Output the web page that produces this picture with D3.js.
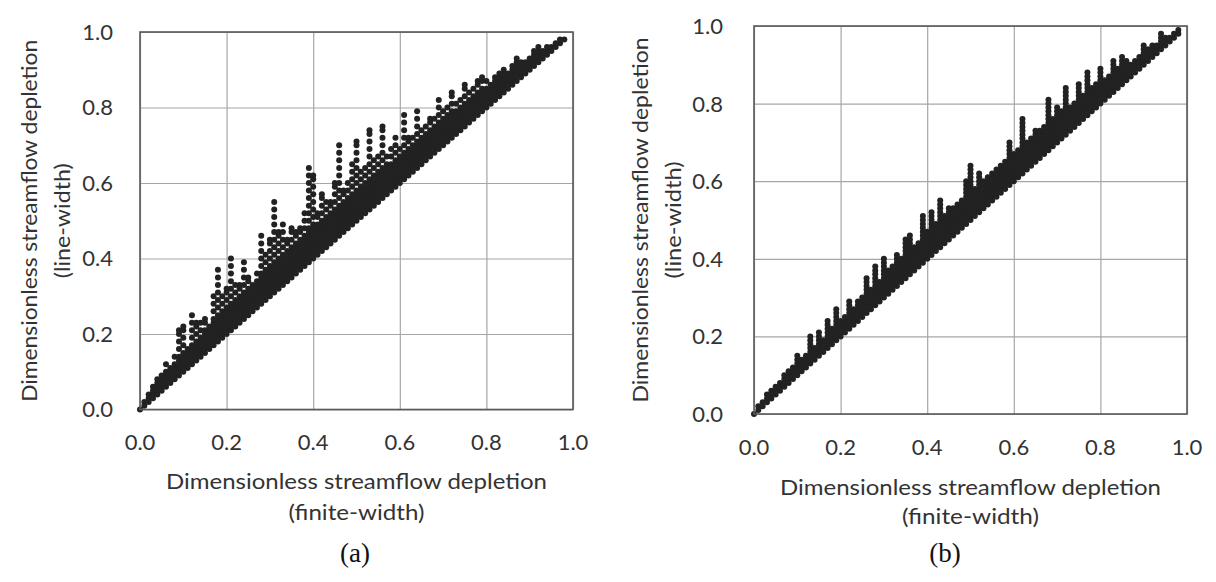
<!DOCTYPE html>
<html>
<head>
<meta charset="utf-8">
<script src="https://cdn.jsdelivr.net/npm/d3@7"></script>
<style>
  body { margin: 0; background: #fff; }
  svg { display: block; }
</style>
</head>
<body>
<div id="fig"></div>
<script>
// axis ticks and labels
var ticks = [0, 0.2, 0.4, 0.6, 0.8, 1.0];
var tickLabels = ["0.0", "0.2", "0.4", "0.6", "0.8", "1.0"];
var xTitle = ["Dimensionless streamflow depletion", "(finite-width)"];
var yTitle = ["Dimensionless streamflow depletion", "(line-width)"];
var captions = ["(a)", "(b)"];

// panel (a): [finite-width depletion, [line-width depletion values]]
var depletionA = [
  [0.00, [0.00]],
  [0.01, [0.01, 0.02]],
  [0.02, [0.02, 0.03, 0.04]],
  [0.03, [0.03, 0.04, 0.05, 0.06]],
  [0.04, [0.04, 0.05, 0.06, 0.07, 0.08]],
  [0.05, [0.05, 0.06, 0.07, 0.08, 0.09]],
  [0.06, [0.06, 0.07, 0.08, 0.09, 0.10, 0.12]],
  [0.07, [0.07, 0.08, 0.09, 0.10, 0.11]],
  [0.08, [0.08, 0.09, 0.10, 0.11, 0.12, 0.14]],
  [0.09, [0.09, 0.10, 0.11, 0.12, 0.13, 0.14, 0.16, 0.18, 0.20, 0.21]],
  [0.10, [0.10, 0.11, 0.12, 0.13, 0.14, 0.15, 0.17, 0.19, 0.21, 0.22]],
  [0.11, [0.11, 0.12, 0.13, 0.14, 0.15, 0.16]],
  [0.12, [0.12, 0.13, 0.14, 0.15, 0.16, 0.17, 0.19, 0.21, 0.23, 0.25]],
  [0.13, [0.13, 0.14, 0.15, 0.16, 0.17, 0.18, 0.20, 0.22, 0.23]],
  [0.14, [0.14, 0.15, 0.16, 0.17, 0.18, 0.19, 0.21, 0.23]],
  [0.15, [0.15, 0.16, 0.17, 0.18, 0.19, 0.20, 0.21, 0.23, 0.24]],
  [0.16, [0.16, 0.17, 0.18, 0.19, 0.20, 0.21, 0.22]],
  [0.17, [0.17, 0.18, 0.19, 0.20, 0.21, 0.22, 0.23, 0.24, 0.26, 0.28, 0.30]],
  [0.18, [0.18, 0.19, 0.20, 0.21, 0.22, 0.23, 0.24, 0.25, 0.27, 0.29, 0.31, 0.33, 0.35, 0.37]],
  [0.19, [0.19, 0.20, 0.21, 0.22, 0.23, 0.24, 0.25, 0.26, 0.28, 0.30]],
  [0.20, [0.20, 0.21, 0.22, 0.23, 0.24, 0.25, 0.26, 0.27, 0.29, 0.31, 0.32]],
  [0.21, [0.21, 0.22, 0.23, 0.24, 0.25, 0.26, 0.27, 0.28, 0.30, 0.32, 0.34, 0.36, 0.38, 0.40]],
  [0.22, [0.22, 0.23, 0.24, 0.25, 0.26, 0.27, 0.28, 0.29, 0.31, 0.33]],
  [0.23, [0.23, 0.24, 0.25, 0.26, 0.27, 0.28, 0.29, 0.30, 0.32, 0.33]],
  [0.24, [0.24, 0.25, 0.26, 0.27, 0.28, 0.29, 0.30, 0.31, 0.33, 0.35, 0.37, 0.39]],
  [0.25, [0.25, 0.26, 0.27, 0.28, 0.29, 0.30, 0.31, 0.32, 0.34, 0.35]],
  [0.26, [0.26, 0.27, 0.28, 0.29, 0.30, 0.31, 0.32, 0.33]],
  [0.27, [0.27, 0.28, 0.29, 0.30, 0.31, 0.32, 0.33, 0.34, 0.36]],
  [0.28, [0.28, 0.29, 0.30, 0.31, 0.32, 0.33, 0.34, 0.35, 0.36, 0.38, 0.40, 0.42, 0.44, 0.46]],
  [0.29, [0.29, 0.30, 0.31, 0.32, 0.33, 0.34, 0.35, 0.36, 0.37, 0.39, 0.41]],
  [0.30, [0.30, 0.31, 0.32, 0.33, 0.34, 0.35, 0.36, 0.37, 0.38, 0.40, 0.42, 0.44, 0.45]],
  [0.31, [0.31, 0.32, 0.33, 0.34, 0.35, 0.36, 0.37, 0.38, 0.39, 0.41, 0.43, 0.45, 0.47, 0.49, 0.51, 0.53, 0.55]],
  [0.32, [0.32, 0.33, 0.34, 0.35, 0.36, 0.37, 0.38, 0.39, 0.40, 0.42, 0.44, 0.46, 0.47]],
  [0.33, [0.33, 0.34, 0.35, 0.36, 0.37, 0.38, 0.39, 0.40, 0.41, 0.43, 0.45, 0.47, 0.49]],
  [0.34, [0.34, 0.35, 0.36, 0.37, 0.38, 0.39, 0.40, 0.41, 0.42, 0.44, 0.45]],
  [0.35, [0.35, 0.36, 0.37, 0.38, 0.39, 0.40, 0.41, 0.42, 0.43, 0.45, 0.47, 0.48]],
  [0.36, [0.36, 0.37, 0.38, 0.39, 0.40, 0.41, 0.42, 0.43, 0.44, 0.46, 0.47]],
  [0.37, [0.37, 0.38, 0.39, 0.40, 0.41, 0.42, 0.43, 0.44, 0.45, 0.47, 0.48]],
  [0.38, [0.38, 0.39, 0.40, 0.41, 0.42, 0.43, 0.44, 0.45, 0.46, 0.48, 0.50, 0.52]],
  [0.39, [0.39, 0.40, 0.41, 0.42, 0.43, 0.44, 0.45, 0.46, 0.47, 0.48, 0.50, 0.52, 0.54, 0.56, 0.58, 0.60, 0.62, 0.64]],
  [0.40, [0.40, 0.41, 0.42, 0.43, 0.44, 0.45, 0.46, 0.47, 0.48, 0.49, 0.51, 0.53, 0.55, 0.57, 0.59, 0.61, 0.62]],
  [0.41, [0.41, 0.42, 0.43, 0.44, 0.45, 0.46, 0.47, 0.48, 0.49, 0.51, 0.52]],
  [0.42, [0.42, 0.43, 0.44, 0.45, 0.46, 0.47, 0.48, 0.49, 0.50, 0.52, 0.54, 0.56, 0.57]],
  [0.43, [0.43, 0.44, 0.45, 0.46, 0.47, 0.48, 0.49, 0.50, 0.51, 0.53, 0.55]],
  [0.44, [0.44, 0.45, 0.46, 0.47, 0.48, 0.49, 0.50, 0.51, 0.52, 0.54, 0.55]],
  [0.45, [0.45, 0.46, 0.47, 0.48, 0.49, 0.50, 0.51, 0.52, 0.53, 0.55, 0.57, 0.59, 0.60]],
  [0.46, [0.46, 0.47, 0.48, 0.49, 0.50, 0.51, 0.52, 0.53, 0.54, 0.56, 0.58, 0.60, 0.62, 0.64, 0.66, 0.68, 0.70]],
  [0.47, [0.47, 0.48, 0.49, 0.50, 0.51, 0.52, 0.53, 0.54, 0.55, 0.57, 0.58]],
  [0.48, [0.48, 0.49, 0.50, 0.51, 0.52, 0.53, 0.54, 0.55, 0.56, 0.58, 0.60]],
  [0.49, [0.49, 0.50, 0.51, 0.52, 0.53, 0.54, 0.55, 0.56, 0.57, 0.59, 0.61, 0.63, 0.65]],
  [0.50, [0.50, 0.51, 0.52, 0.53, 0.54, 0.55, 0.56, 0.57, 0.58, 0.60, 0.62, 0.64, 0.66, 0.68, 0.70, 0.71]],
  [0.51, [0.51, 0.52, 0.53, 0.54, 0.55, 0.56, 0.57, 0.58, 0.59, 0.61, 0.63]],
  [0.52, [0.52, 0.53, 0.54, 0.55, 0.56, 0.57, 0.58, 0.59, 0.60, 0.62, 0.64]],
  [0.53, [0.53, 0.54, 0.55, 0.56, 0.57, 0.58, 0.59, 0.60, 0.61, 0.63, 0.65, 0.67, 0.69, 0.71, 0.73, 0.74]],
  [0.54, [0.54, 0.55, 0.56, 0.57, 0.58, 0.59, 0.60, 0.61, 0.62, 0.64, 0.66]],
  [0.55, [0.55, 0.56, 0.57, 0.58, 0.59, 0.60, 0.61, 0.62, 0.63, 0.65, 0.67]],
  [0.56, [0.56, 0.57, 0.58, 0.59, 0.60, 0.61, 0.62, 0.63, 0.64, 0.66, 0.68, 0.70, 0.72, 0.74, 0.75]],
  [0.57, [0.57, 0.58, 0.59, 0.60, 0.61, 0.62, 0.63, 0.64, 0.65, 0.67]],
  [0.58, [0.58, 0.59, 0.60, 0.61, 0.62, 0.63, 0.64, 0.65, 0.67, 0.69]],
  [0.59, [0.59, 0.60, 0.61, 0.62, 0.63, 0.64, 0.65, 0.66, 0.68, 0.70, 0.72]],
  [0.60, [0.60, 0.61, 0.62, 0.63, 0.64, 0.65, 0.66, 0.67, 0.69]],
  [0.61, [0.61, 0.62, 0.63, 0.64, 0.65, 0.66, 0.67, 0.68, 0.70, 0.72, 0.74, 0.76, 0.78]],
  [0.62, [0.62, 0.63, 0.64, 0.65, 0.66, 0.67, 0.68, 0.69, 0.71, 0.72]],
  [0.63, [0.63, 0.64, 0.65, 0.66, 0.67, 0.68, 0.69, 0.70, 0.72]],
  [0.64, [0.64, 0.65, 0.66, 0.67, 0.68, 0.69, 0.70, 0.71, 0.73, 0.75, 0.77, 0.79]],
  [0.65, [0.65, 0.66, 0.67, 0.68, 0.69, 0.70, 0.71, 0.72, 0.74]],
  [0.66, [0.66, 0.67, 0.68, 0.69, 0.70, 0.71, 0.72, 0.73, 0.75]],
  [0.67, [0.67, 0.68, 0.69, 0.70, 0.71, 0.72, 0.73, 0.74, 0.76, 0.77]],
  [0.68, [0.68, 0.69, 0.70, 0.71, 0.72, 0.73, 0.74, 0.75, 0.77]],
  [0.69, [0.69, 0.70, 0.71, 0.72, 0.73, 0.74, 0.75, 0.76, 0.78, 0.80, 0.82]],
  [0.70, [0.70, 0.71, 0.72, 0.73, 0.74, 0.75, 0.76, 0.77, 0.79]],
  [0.71, [0.71, 0.72, 0.73, 0.74, 0.75, 0.76, 0.77, 0.78, 0.80]],
  [0.72, [0.72, 0.73, 0.74, 0.75, 0.76, 0.77, 0.78, 0.79, 0.81, 0.83, 0.84]],
  [0.73, [0.73, 0.74, 0.75, 0.76, 0.77, 0.78, 0.79, 0.81]],
  [0.74, [0.74, 0.75, 0.76, 0.77, 0.78, 0.79, 0.80, 0.82]],
  [0.75, [0.75, 0.76, 0.77, 0.78, 0.79, 0.80, 0.81, 0.83, 0.85, 0.86]],
  [0.76, [0.76, 0.77, 0.78, 0.79, 0.80, 0.81, 0.82, 0.84]],
  [0.77, [0.77, 0.78, 0.79, 0.80, 0.81, 0.82, 0.83, 0.85]],
  [0.78, [0.78, 0.79, 0.80, 0.81, 0.82, 0.83, 0.84, 0.86, 0.87]],
  [0.79, [0.79, 0.80, 0.81, 0.82, 0.83, 0.84, 0.85, 0.87, 0.88]],
  [0.80, [0.80, 0.81, 0.82, 0.83, 0.84, 0.85, 0.87]],
  [0.81, [0.81, 0.82, 0.83, 0.84, 0.85, 0.86]],
  [0.82, [0.82, 0.83, 0.84, 0.85, 0.86, 0.87, 0.88]],
  [0.83, [0.83, 0.84, 0.85, 0.86, 0.87, 0.88, 0.89]],
  [0.84, [0.84, 0.85, 0.86, 0.87, 0.88, 0.89, 0.90]],
  [0.85, [0.85, 0.86, 0.87, 0.88, 0.89]],
  [0.86, [0.86, 0.87, 0.88, 0.89, 0.90, 0.91]],
  [0.87, [0.87, 0.88, 0.89, 0.90, 0.91, 0.92, 0.93]],
  [0.88, [0.88, 0.89, 0.90, 0.91, 0.92]],
  [0.89, [0.89, 0.90, 0.91, 0.92]],
  [0.90, [0.90, 0.91, 0.92, 0.93]],
  [0.91, [0.91, 0.92, 0.93, 0.94, 0.95]],
  [0.92, [0.92, 0.93, 0.94, 0.95, 0.96]],
  [0.93, [0.93, 0.94, 0.95]],
  [0.94, [0.94, 0.95, 0.96]],
  [0.95, [0.95, 0.96]],
  [0.96, [0.96, 0.97]],
  [0.97, [0.97, 0.98]],
  [0.98, [0.98]]
];

// panel (b): [finite-width depletion, [line-width depletion values]]
var depletionB = [
  [0.00, [0.00]],
  [0.01, [0.01, 0.02]],
  [0.02, [0.02, 0.03]],
  [0.03, [0.03, 0.04, 0.05]],
  [0.04, [0.04, 0.05, 0.06]],
  [0.05, [0.05, 0.06, 0.07]],
  [0.06, [0.06, 0.07, 0.08]],
  [0.07, [0.07, 0.08, 0.09, 0.10]],
  [0.08, [0.08, 0.09, 0.10, 0.11]],
  [0.09, [0.09, 0.10, 0.11, 0.12]],
  [0.10, [0.10, 0.11, 0.12, 0.13, 0.14, 0.15]],
  [0.11, [0.11, 0.12, 0.13, 0.14]],
  [0.12, [0.12, 0.13, 0.14, 0.15]],
  [0.13, [0.13, 0.14, 0.15, 0.16, 0.17, 0.18, 0.19, 0.20]],
  [0.14, [0.14, 0.15, 0.16, 0.17]],
  [0.15, [0.15, 0.16, 0.17, 0.18, 0.19, 0.20, 0.21]],
  [0.16, [0.16, 0.17, 0.18, 0.19]],
  [0.17, [0.17, 0.18, 0.19, 0.20, 0.21, 0.22, 0.23, 0.24]],
  [0.18, [0.18, 0.19, 0.20, 0.21, 0.22]],
  [0.19, [0.19, 0.20, 0.21, 0.22, 0.23, 0.24, 0.25, 0.26, 0.27]],
  [0.20, [0.20, 0.21, 0.22, 0.23, 0.24]],
  [0.21, [0.21, 0.22, 0.23, 0.24, 0.25]],
  [0.22, [0.22, 0.23, 0.24, 0.25, 0.26, 0.27, 0.28, 0.29]],
  [0.23, [0.23, 0.24, 0.25, 0.26, 0.27]],
  [0.24, [0.24, 0.25, 0.26, 0.27, 0.28, 0.29]],
  [0.25, [0.25, 0.26, 0.27, 0.28, 0.29, 0.30]],
  [0.26, [0.26, 0.27, 0.28, 0.29, 0.30, 0.31, 0.32, 0.33, 0.34, 0.35]],
  [0.27, [0.27, 0.28, 0.29, 0.30, 0.31, 0.32]],
  [0.28, [0.28, 0.29, 0.30, 0.31, 0.32, 0.33, 0.34, 0.35, 0.36, 0.37, 0.38]],
  [0.29, [0.29, 0.30, 0.31, 0.32, 0.33, 0.34]],
  [0.30, [0.30, 0.31, 0.32, 0.33, 0.34, 0.35, 0.36, 0.37, 0.38, 0.39, 0.40]],
  [0.31, [0.31, 0.32, 0.33, 0.34, 0.35, 0.36, 0.37]],
  [0.32, [0.32, 0.33, 0.34, 0.35, 0.36, 0.37, 0.38]],
  [0.33, [0.33, 0.34, 0.35, 0.36, 0.37, 0.38, 0.39, 0.40, 0.41]],
  [0.34, [0.34, 0.35, 0.36, 0.37, 0.38, 0.39, 0.40]],
  [0.35, [0.35, 0.36, 0.37, 0.38, 0.39, 0.40, 0.41, 0.42, 0.43, 0.44, 0.45]],
  [0.36, [0.36, 0.37, 0.38, 0.39, 0.40, 0.41, 0.42, 0.43, 0.44, 0.45, 0.46]],
  [0.37, [0.37, 0.38, 0.39, 0.40, 0.41, 0.42, 0.43]],
  [0.38, [0.38, 0.39, 0.40, 0.41, 0.42, 0.43, 0.44]],
  [0.39, [0.39, 0.40, 0.41, 0.42, 0.43, 0.44, 0.45, 0.46, 0.47, 0.48, 0.49, 0.50, 0.51]],
  [0.40, [0.40, 0.41, 0.42, 0.43, 0.44, 0.45, 0.46, 0.47]],
  [0.41, [0.41, 0.42, 0.43, 0.44, 0.45, 0.46, 0.47, 0.48, 0.49, 0.50, 0.51, 0.52]],
  [0.42, [0.42, 0.43, 0.44, 0.45, 0.46, 0.47, 0.48, 0.49]],
  [0.43, [0.43, 0.44, 0.45, 0.46, 0.47, 0.48, 0.49, 0.50, 0.51, 0.52, 0.53, 0.54, 0.55]],
  [0.44, [0.44, 0.45, 0.46, 0.47, 0.48, 0.49, 0.50, 0.51]],
  [0.45, [0.45, 0.46, 0.47, 0.48, 0.49, 0.50, 0.51, 0.52, 0.53]],
  [0.46, [0.46, 0.47, 0.48, 0.49, 0.50, 0.51, 0.52, 0.53]],
  [0.47, [0.47, 0.48, 0.49, 0.50, 0.51, 0.52, 0.53, 0.54]],
  [0.48, [0.48, 0.49, 0.50, 0.51, 0.52, 0.53, 0.54, 0.55]],
  [0.49, [0.49, 0.50, 0.51, 0.52, 0.53, 0.54, 0.55, 0.56, 0.57, 0.58, 0.59, 0.60]],
  [0.50, [0.50, 0.51, 0.52, 0.53, 0.54, 0.55, 0.56, 0.57, 0.58, 0.59, 0.60, 0.61, 0.62, 0.63, 0.64]],
  [0.51, [0.51, 0.52, 0.53, 0.54, 0.55, 0.56, 0.57, 0.58]],
  [0.52, [0.52, 0.53, 0.54, 0.55, 0.56, 0.57, 0.58, 0.59, 0.60, 0.61, 0.62]],
  [0.53, [0.53, 0.54, 0.55, 0.56, 0.57, 0.58, 0.59, 0.60]],
  [0.54, [0.54, 0.55, 0.56, 0.57, 0.58, 0.59, 0.60, 0.61]],
  [0.55, [0.55, 0.56, 0.57, 0.58, 0.59, 0.60, 0.61, 0.62]],
  [0.56, [0.56, 0.57, 0.58, 0.59, 0.60, 0.61, 0.62, 0.63]],
  [0.57, [0.57, 0.58, 0.59, 0.60, 0.61, 0.62, 0.63, 0.64]],
  [0.58, [0.58, 0.59, 0.60, 0.61, 0.62, 0.63, 0.64, 0.65]],
  [0.59, [0.59, 0.60, 0.61, 0.62, 0.63, 0.64, 0.65, 0.66, 0.67, 0.68, 0.69, 0.70]],
  [0.60, [0.60, 0.61, 0.62, 0.63, 0.64, 0.65, 0.66, 0.67]],
  [0.61, [0.61, 0.62, 0.63, 0.64, 0.65, 0.66, 0.67, 0.68]],
  [0.62, [0.62, 0.63, 0.64, 0.65, 0.66, 0.67, 0.68, 0.69, 0.70, 0.71, 0.72, 0.73, 0.74, 0.75, 0.76]],
  [0.63, [0.63, 0.64, 0.65, 0.66, 0.67, 0.68, 0.69, 0.70]],
  [0.64, [0.64, 0.65, 0.66, 0.67, 0.68, 0.69, 0.70, 0.71]],
  [0.65, [0.65, 0.66, 0.67, 0.68, 0.69, 0.70, 0.71, 0.72, 0.73]],
  [0.66, [0.66, 0.67, 0.68, 0.69, 0.70, 0.71, 0.72, 0.73]],
  [0.67, [0.67, 0.68, 0.69, 0.70, 0.71, 0.72, 0.73, 0.74]],
  [0.68, [0.68, 0.69, 0.70, 0.71, 0.72, 0.73, 0.74, 0.75, 0.76, 0.77, 0.78, 0.79, 0.80, 0.81]],
  [0.69, [0.69, 0.70, 0.71, 0.72, 0.73, 0.74, 0.75, 0.76]],
  [0.70, [0.70, 0.71, 0.72, 0.73, 0.74, 0.75, 0.76, 0.77, 0.78, 0.79]],
  [0.71, [0.71, 0.72, 0.73, 0.74, 0.75, 0.76, 0.77, 0.78]],
  [0.72, [0.72, 0.73, 0.74, 0.75, 0.76, 0.77, 0.78, 0.79, 0.80, 0.81, 0.82, 0.83, 0.84]],
  [0.73, [0.73, 0.74, 0.75, 0.76, 0.77, 0.78, 0.79]],
  [0.74, [0.74, 0.75, 0.76, 0.77, 0.78, 0.79, 0.80]],
  [0.75, [0.75, 0.76, 0.77, 0.78, 0.79, 0.80, 0.81, 0.82, 0.83, 0.84, 0.85]],
  [0.76, [0.76, 0.77, 0.78, 0.79, 0.80, 0.81, 0.82]],
  [0.77, [0.77, 0.78, 0.79, 0.80, 0.81, 0.82, 0.83, 0.84, 0.85, 0.86, 0.87, 0.88]],
  [0.78, [0.78, 0.79, 0.80, 0.81, 0.82, 0.83, 0.84]],
  [0.79, [0.79, 0.80, 0.81, 0.82, 0.83, 0.84, 0.85]],
  [0.80, [0.80, 0.81, 0.82, 0.83, 0.84, 0.85, 0.86, 0.87, 0.88, 0.89]],
  [0.81, [0.81, 0.82, 0.83, 0.84, 0.85, 0.86]],
  [0.82, [0.82, 0.83, 0.84, 0.85, 0.86, 0.87]],
  [0.83, [0.83, 0.84, 0.85, 0.86, 0.87, 0.88, 0.89, 0.90, 0.91]],
  [0.84, [0.84, 0.85, 0.86, 0.87, 0.88, 0.89]],
  [0.85, [0.85, 0.86, 0.87, 0.88, 0.89, 0.90, 0.91, 0.92]],
  [0.86, [0.86, 0.87, 0.88, 0.89, 0.90, 0.91]],
  [0.87, [0.87, 0.88, 0.89, 0.90]],
  [0.88, [0.88, 0.89, 0.90, 0.91]],
  [0.89, [0.89, 0.90, 0.91, 0.92]],
  [0.90, [0.90, 0.91, 0.92, 0.93, 0.94, 0.95]],
  [0.91, [0.91, 0.92, 0.93, 0.94]],
  [0.92, [0.92, 0.93, 0.94, 0.95]],
  [0.93, [0.93, 0.94, 0.95]],
  [0.94, [0.94, 0.95, 0.96, 0.97, 0.98]],
  [0.95, [0.95, 0.96, 0.97]],
  [0.96, [0.96, 0.97]],
  [0.97, [0.97, 0.98]],
  [0.98, [0.98, 0.99]]
];

var labelFont = "Lato, 'Open Sans', sans-serif";
var textColor = '#333';

var svg = d3.select('#fig').append('svg')
    .attr('width', 1216)
    .attr('height', 582);

// plot box and text placement for each panel
var panels = [
  { cols: depletionA, left: 140, right: 573, top: 32, bottom: 409.5,
    yTickX: 113, xTickY: 450, xTitleY: [489, 520], xTitleLen: [381, 136],
    yTitleX: [37, 70], yTitleLen: [362, 115], capX: 355 },
  { cols: depletionB, left: 754, right: 1187, top: 26, bottom: 414,
    yTickX: 723, xTickY: 455, xTitleY: [495, 524], xTitleLen: [381, 137],
    yTitleX: [648, 681], yTitleLen: [365, 117], capX: 945 }
];

panels.forEach(function(p, i) {
  var x = d3.scaleLinear().domain([0, 1]).range([p.left, p.right]);
  var y = d3.scaleLinear().domain([0, 1]).range([p.bottom, p.top]);
  var g = svg.append('g');

  // gridlines
  g.append('g')
      .attr('transform', 'translate(0,' + p.bottom + ')')
      .call(d3.axisBottom(x).tickValues(ticks).tickSize(-(p.bottom - p.top)).tickFormat(''))
      .call(function(a) { a.select('.domain').remove(); })
      .selectAll('line').attr('stroke', '#a6a6a6').attr('stroke-width', 1.2);
  g.append('g')
      .attr('transform', 'translate(' + p.left + ',0)')
      .call(d3.axisLeft(y).tickValues(ticks).tickSize(-(p.right - p.left)).tickFormat(''))
      .call(function(a) { a.select('.domain').remove(); })
      .selectAll('line').attr('stroke', '#a6a6a6').attr('stroke-width', 1.2);

  // scatter points
  var pts = [];
  p.cols.forEach(function(c) {
    c[1].forEach(function(v) { pts.push([c[0], v]); });
  });
  g.append('g').selectAll('circle')
      .data(pts)
      .join('circle')
      .attr('cx', function(d) { return x(d[0]); })
      .attr('cy', function(d) { return y(d[1]); })
      .attr('r', 3)
      .attr('fill', '#222');

  // frame
  g.append('rect')
      .attr('x', p.left).attr('y', p.top)
      .attr('width', p.right - p.left).attr('height', p.bottom - p.top)
      .attr('fill', 'none').attr('stroke', '#595959').attr('stroke-width', 1.6);

  // tick labels
  g.append('g').selectAll('text')
      .data(ticks)
      .join('text')
      .attr('x', p.yTickX)
      .attr('y', function(d) { return y(d); })
      .attr('dy', '0.36em')
      .attr('text-anchor', 'end')
      .style('font-family', labelFont).style('font-size', '22px').attr('fill', textColor)
      .text(function(d, j) { return tickLabels[j]; });
  g.append('g').selectAll('text')
      .data(ticks)
      .join('text')
      .attr('x', function(d) { return x(d); })
      .attr('y', p.xTickY)
      .attr('text-anchor', 'middle')
      .style('font-family', labelFont).style('font-size', '22px').attr('fill', textColor)
      .text(function(d, j) { return tickLabels[j]; });

  // axis titles
  var cx = (p.left + p.right) / 2, cy = (p.top + p.bottom) / 2;
  xTitle.forEach(function(t, k) {
    g.append('text')
        .attr('x', cx).attr('y', p.xTitleY[k])
        .attr('text-anchor', 'middle')
        .attr('textLength', p.xTitleLen[k]).attr('lengthAdjust', 'spacingAndGlyphs')
        .style('font-family', labelFont).style('font-size', '22px').attr('fill', textColor)
        .text(t);
  });
  yTitle.forEach(function(t, k) {
    g.append('text')
        .attr('transform', 'translate(' + p.yTitleX[k] + ',' + cy + ') rotate(-90)')
        .attr('text-anchor', 'middle')
        .attr('textLength', p.yTitleLen[k]).attr('lengthAdjust', 'spacingAndGlyphs')
        .style('font-family', labelFont).style('font-size', '22px').attr('fill', textColor)
        .text(t);
  });

  // panel caption
  g.append('text')
      .attr('x', p.capX).attr('y', 562)
      .attr('text-anchor', 'middle')
      .style('font-family', "'Liberation Serif', 'Times New Roman', serif").style('font-size', '27px')
      .attr('fill', '#111')
      .text(captions[i]);
});
</script>
</body>
</html>
